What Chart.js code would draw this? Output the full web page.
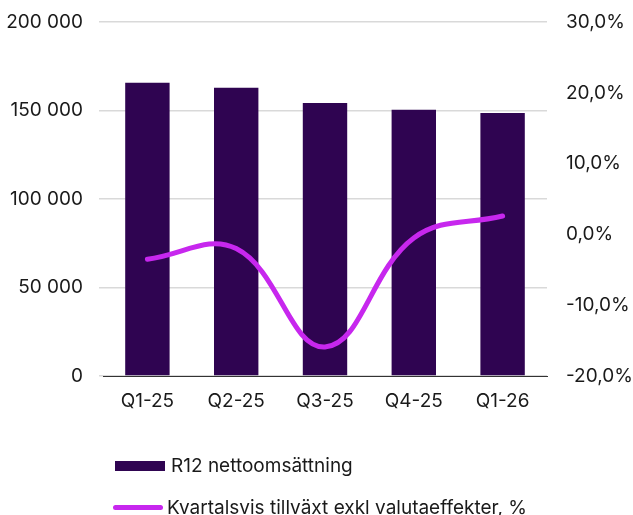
<!DOCTYPE html>
<html>
<head>
<meta charset="utf-8">
<script src="https://cdn.jsdelivr.net/npm/chart.js@4/dist/chart.umd.min.js"></script>
<style>
  body { margin: 0; background: #fff; font-family: Inter, sans-serif; }
  #wrap { position: relative; width: 633px; height: 515px; }
  .leg { position: absolute; left: 113px; font-size: 19px; color: #1a1a1a; display: flex; align-items: center; white-space: nowrap; }
  .leg .box { width: 50px; height: 10px; background: #2f0451; margin-right: 6px; }
  .leg .ln { width: 50px; height: 5px; border-radius: 3px; background: #c727ee; margin-right: 4px; }
</style>
</head>
<body>
<div id="wrap">
  <canvas id="chart" width="633" height="515"></canvas>
  <div class="leg" style="top:454px; left:115px"><span class="box"></span><span id="lab0"></span></div>
  <div class="leg" style="top:496px"><span class="ln"></span><span id="lab1"></span></div>
</div>
<script>
const ctx = document.getElementById('chart');

const quarters = ["Q1-25", "Q2-25", "Q3-25", "Q4-25", "Q1-26"];
const salesR12 = [165700, 162800, 154200, 150400, 148600];
const growthPct = [-3.5, -2.0, -15.9, -0.5, 2.6];
const labelSales = "R12 nettoomsättning";
const labelGrowth = "Kvartalsvis tillväxt exkl valutaeffekter, %";

document.getElementById('lab0').textContent = labelSales;
document.getElementById('lab1').textContent = labelGrowth;

const tickFont = { family: "Inter", size: 19 };

// keep axis label overhang from pushing the plot area down
const fixVertical = (w) => (axis) => {
  axis.width = w;
  axis.paddingTop = 0;
  axis.paddingBottom = 0;
};

new Chart(ctx, {
  type: "bar",
  data: {
    labels: quarters,
    datasets: [{
      type: "line",
      label: labelGrowth,
      data: growthPct,
      yAxisID: "y2",
      borderColor: "#c727ee",
      backgroundColor: "#c727ee",
      borderWidth: 5,
      borderCapStyle: "round",
      tension: 0.4,
      pointRadius: 0,
      fill: false,
      order: 0
    }, {
      label: labelSales,
      data: salesR12,
      yAxisID: "y",
      backgroundColor: "#2f0451",
      barPercentage: 0.5,
      categoryPercentage: 1,
      order: 1
    }]
  },
  options: {
    responsive: false,
    animation: false,
    layout: { padding: { top: 22, bottom: 89, left: 0, right: 0 } },
    plugins: {
      legend: { display: false },
      tooltip: { enabled: false }
    },
    scales: {
      x: {
        grid: { display: false, drawTicks: false },
        border: { display: true, color: "#333", width: 1 },
        ticks: { font: tickFont, color: "#1a1a1a", padding: 14 },
        afterFit: (axis) => { axis.height = 50; axis.paddingLeft = 0; axis.paddingRight = 0; }
      },
      y: {
        position: "left",
        min: 0, max: 200000,
        grid: { color: "#d9d9d9", lineWidth: 1.5, tickLength: 4 },
        border: { display: false },
        ticks: {
          stepSize: 50000,
          font: tickFont, color: "#1a1a1a", padding: 16,
          callback: (v) => String(v).replace(/\B(?=(\d{3})+(?!\d))/g, " ")
        },
        afterFit: fixVertical(103)
      },
      y2: {
        position: "right",
        min: -20, max: 30,
        grid: { drawOnChartArea: false, drawTicks: false },
        border: { display: false },
        ticks: {
          stepSize: 10,
          font: tickFont, color: "#1a1a1a", padding: 19,
          callback: (v) => v.toFixed(1).replace(".", ",") + "%"
        },
        afterFit: fixVertical(86)
      }
    }
  }
});
</script>
</body>
</html>
